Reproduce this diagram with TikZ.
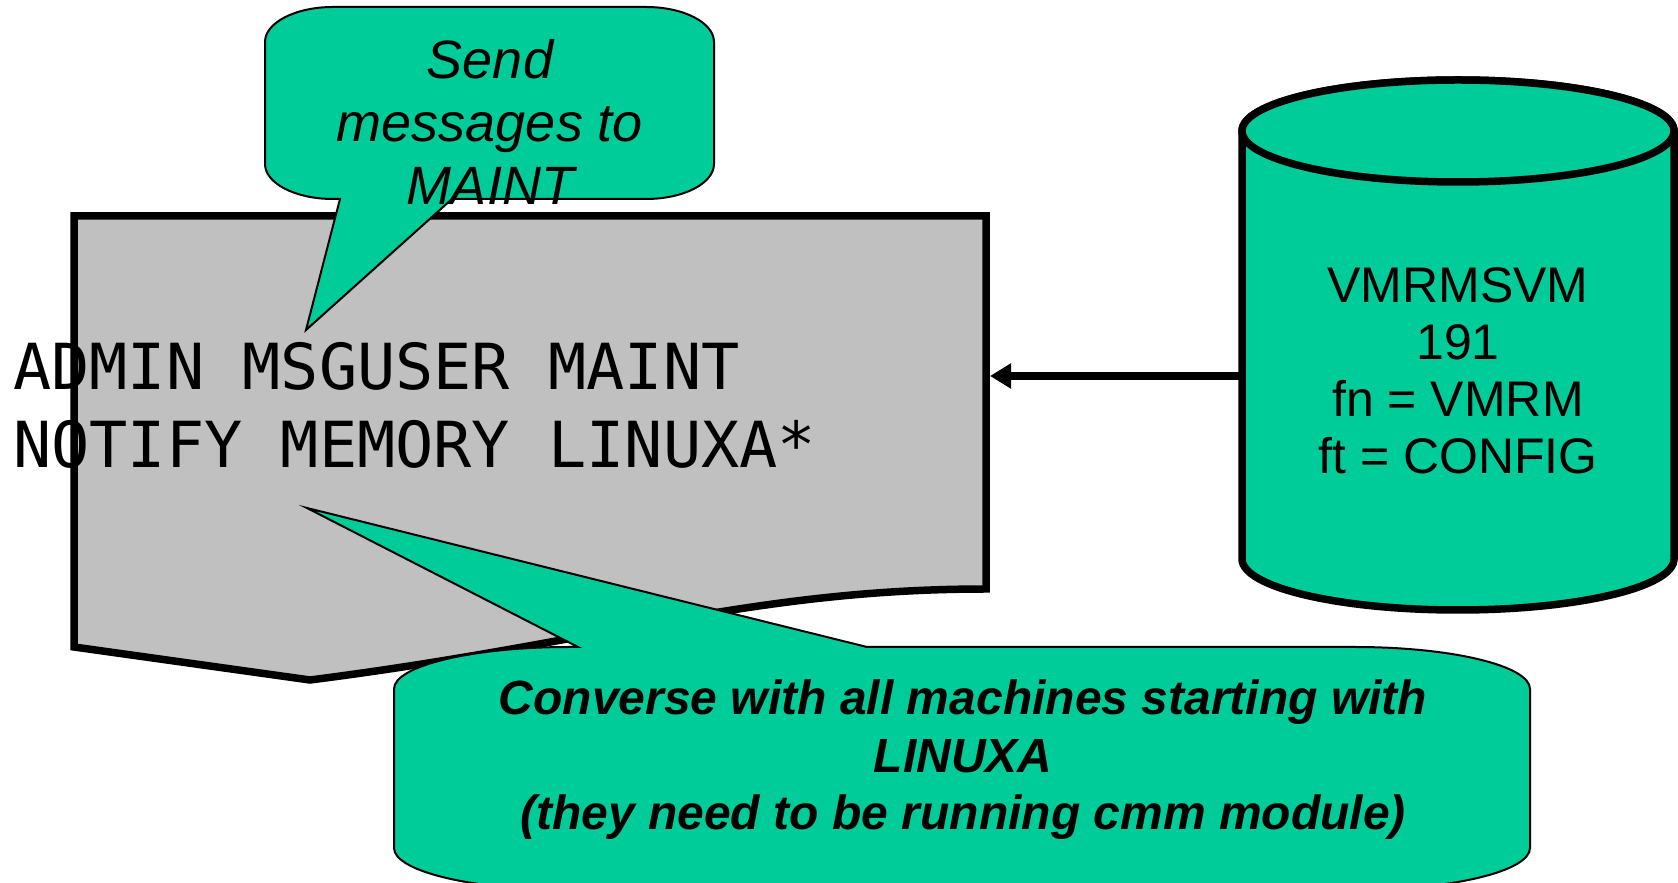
\documentclass[tikz,border=0pt]{standalone}
\usepackage{fontspec}
\setmainfont{Liberation Sans}
\newfontfamily\codefont{DejaVu Sans Mono}
\usetikzlibrary{arrows.meta}
\definecolor{notegreen}{HTML}{00CC99}
\definecolor{pagegray}{HTML}{C0C0C0}

\begin{document}
\begin{tikzpicture}[x=1pt, y=1pt,
    note/.style={draw, fill=notegreen, line width=2pt},
    page/.style={draw, fill=pagegray, line width=7.5pt},
    disk/.style={draw, fill=notegreen, line width=7.5pt},
    disktext/.style={font=\fontsize{50}{57}\selectfont, align=center, anchor=base, inner sep=0pt},
    sendtext/.style={font=\fontsize{54}{63}\selectfont\itshape, align=center, anchor=base, inner sep=0pt},
    cmdtext/.style={font=\fontsize{63.5}{78}\selectfont\codefont, align=left, anchor=base west, inner sep=0pt},
    conversetext/.style={font=\fontsize{48}{57.5}\selectfont\bfseries\itshape, align=center, anchor=base, inner sep=0pt},
]
\useasboundingbox (0,0) rectangle (1678,883);

% the document
\draw[page] (74,667) -- (986,667) -- (986,294)
    .. controls (750,294) and (600,240) .. (310,203) -- (74,236) -- cycle;
\coordinate (pageE) at (990,507);

% top callout
\draw[note] (306,553) -- (452,684) -- (646,684)
    arc[start angle=-90, end angle=0, x radius=68, y radius=35] -- (714,841)
    arc[start angle=0, end angle=90, x radius=68, y radius=35] -- (333,876)
    arc[start angle=90, end angle=180, x radius=68, y radius=35] -- (265,719)
    arc[start angle=180, end angle=270, x radius=68, y radius=35] -- (340,684) -- cycle;
\node[sendtext] (send) at (490,678) {Send\\messages to\\MAINT};

\node[cmdtext] (cmd) at (13,415) {ADMIN MSGUSER MAINT\\NOTIFY MEMORY LINUXA*};

% bottom callout
\draw[note] (394,35) -- (394,194)
    arc[start angle=180, end angle=90, x radius=175, y radius=42] -- (578,236)
    -- (307,375) -- (867,236) -- (1355,236)
    arc[start angle=90, end angle=0, x radius=175, y radius=42] -- (1530,35)
    arc[start angle=0, end angle=-90, x radius=175, y radius=42] -- (569,-7)
    arc[start angle=270, end angle=180, x radius=175, y radius=42] -- cycle;
\node[conversetext] (converse) at (963,53)
    {Converse with all machines starting with\\LINUXA\\(they need to be running cmm module)};

% the disk
\draw[disk] (1242,752) -- (1242,324)
    arc[start angle=180, end angle=360, x radius=216, y radius=51] -- (1674,752)
    arc[start angle=0, end angle=180, x radius=216, y radius=51] -- cycle;
\draw[disk] (1458,752) ellipse[x radius=216, y radius=51];
\node[disktext] (config) at (1458,409) {VMRMSVM\\191\\fn = VMRM\\ft = CONFIG};
\coordinate (diskW) at (1242,507);

\draw[line width=7.5pt, -{Triangle[length=21pt, width=24pt]}] (diskW) -- (pageE);
\end{tikzpicture}
\end{document}
